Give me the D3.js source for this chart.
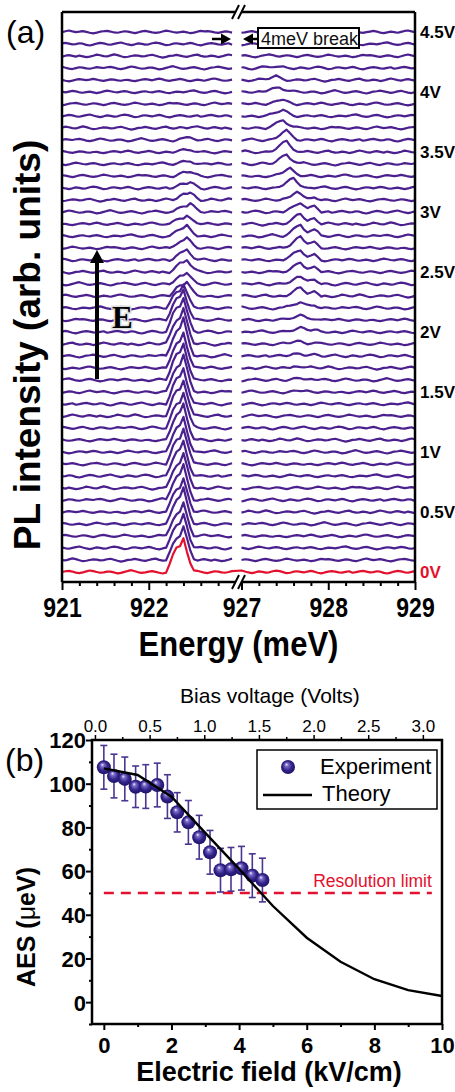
<!DOCTYPE html>
<html>
<head>
<meta charset="utf-8">
<script src="https://cdn.jsdelivr.net/npm/d3@7"></script>
<style>
  body { margin: 0; background: #fff; }
  svg { display: block; font-family: "Liberation Sans", Arial, sans-serif; }
</style>
</head>
<body>
<div id="chart"></div>
<script>
/**
 * DATA
 * */
// panel (a): one PL spectrum per bias step, 0V .. 4.5V
const voltages = [0,0.1,0.2,0.3,0.4,0.5,0.6,0.7,0.8,0.9,1.0,1.1,1.2,1.3,1.4,1.5,1.6,1.7,1.8,1.9,
  2.0,2.1,2.2,2.3,2.4,2.5,2.6,2.7,2.8,2.9,3.0,3.1,3.2,3.3,3.4,3.5,3.6,3.7,3.8,3.9,4.0,4.1,4.2,4.3,4.4,4.5];
const traceGap = 12; // offset between stacked spectra (arb. units)
const energyStep = 0.04;
const leftEnergy = d3.range(50).map(k => +(921 + k * energyStep).toFixed(2));
const rightEnergy = d3.range(51).map(k => +(927 + k * energyStep).toFixed(2));

// main line near 922.4 meV
const leftAmp = [34,33,34,33,35,34,35,34,35,36, 35,36,36,37,36,37,37,36,37,36,
  35,31,24,15,11,12,10,10,10,9, 9,8,6,4,3,2,2,1,0,0, 0,0,0,0,0,0];
const leftPos = [922.40,922.40,922.40,922.40,922.40,922.40,922.40,922.40,922.40,922.40,
  922.40,922.40,922.40,922.40,922.40,922.40,922.40,922.40,922.40,922.40,922.40,922.40,922.40,
  922.44,922.44,922.44,922.44,922.44,922.44,922.44,
  922.48,922.48,922.48,922.48,922.48,922.48,922.48,922.48,922.48,922.48,922.48,922.48,922.48,922.48,922.48,922.48];
const leftProfile = [0, 0.22, 0.5, 0.68, 0.74, 1.0, 0.62, 0.26, 0.03, 0];

// line near 927.5-927.7 meV (after the 4 meV break)
const rightAmp = [0,0,0,0,0,0,0,0,0,0, 0,0,0,0,0,1,2,2,3,3,
  5,5,6,8,8,10,10,12,12,10, 10,8,10,7,10,11,9,8,6,5, 5,3,1.5,0.5,0,0];
const rightPos = [927.68,927.68,927.68,927.68,927.68,927.68,927.68,927.68,927.68,927.68,
  927.68,927.68,927.68,927.68,927.68,927.68,927.68,927.68,927.68,927.68,
  927.68,927.68,927.68,927.68,927.68,927.68,927.68,927.68,927.68,927.68,927.68,
  927.64,927.60,927.56,927.52,927.52,927.52,927.48,927.48,927.48,927.44,927.40,927.36,927.36,927.36,927.36];
const rightProfile = [0, 0.12, 0.3, 0.55, 0.8, 1.0, 0.65, 0.35, 0.12, 0];
const bumpAmp = [0,0,0,0,0,0,0,0,0,0, 0,0,0,0,0,0,0,0,1,1,
  2,2,3,4,4,4,5,5,6,6, 6,3,0,0,0,0,0,0,0,0, 0,0,0,0,0,0];
const bumpPos = 927.84;
const bumpProfile = [0, 0.55, 1.0, 0.55, 0];

const noiseSets = [
  [0,0.5,0.8,0.3,-0.4,-0.8,-0.3,0.4,1.0,0.6,0,-0.5,-0.2,0.3,0.2,-0.3,-0.9,-0.6,0.1,0.7,1.2,0.5,-0.2,-0.6,-0.3,0.2,0.6,0.1,-0.5,-1.0,-0.4,0.3,0.5,0.9,0.4,-0.1,-0.6,-0.2,0.4,0.8,0.2,-0.4,-0.7,-0.1,0.5,0.3,-0.2,-0.5,0,0.6,0.3],
  [0.3,-0.2,-0.7,-0.4,0.2,0.9,0.5,-0.1,-0.3,0.4,1.1,0.6,-0.2,-0.8,-0.5,0,0.4,0.2,-0.3,-0.1,0.5,0.8,0.2,-0.5,-1.1,-0.6,0.1,0.3,0.7,0.3,-0.2,-0.6,0,0.6,0.9,0.1,-0.4,-0.2,0.3,-0.1,-0.7,-0.3,0.4,1.0,0.5,-0.1,-0.4,0.2,0.6,0.1,-0.4],
  [-0.5,-0.1,0.4,0.7,0.2,-0.3,-0.1,0.5,0.2,-0.6,-1.0,-0.4,0.3,0.8,0.4,-0.2,-0.5,0.1,0.6,1.0,0.3,-0.3,-0.7,-0.2,0.4,0.1,-0.4,-0.2,0.5,0.9,0.6,-0.1,-0.8,-0.5,0.2,0.5,0.1,-0.3,0.3,0.7,0.2,-0.5,-0.9,-0.3,0.2,0.6,0.3,-0.2,-0.4,0.1,0.5],
  [0.6,0.2,-0.3,-0.6,-0.1,0.4,0.2,-0.4,-0.8,-0.2,0.5,1.0,0.4,-0.1,0.2,0.6,0.1,-0.5,-0.9,-0.4,0.2,0.5,0.8,0.3,-0.3,-0.5,0,0.5,0.2,-0.3,-0.7,-0.2,0.4,0.7,0.3,-0.2,-0.6,-0.3,0.3,0.9,0.5,0,-0.4,-0.1,0.3,-0.2,-0.8,-0.4,0.2,0.7,0.4],
  [-0.2,0.3,0.6,0.1,-0.5,-0.8,-0.2,0.3,0.1,-0.3,0.2,0.8,1.1,0.4,-0.3,-0.6,-0.2,0.4,0.7,0.2,-0.4,-0.9,-0.5,0.1,0.5,0.2,-0.2,0.3,0.8,0.4,-0.2,-0.5,-0.1,0.3,-0.2,-0.7,-0.3,0.4,0.9,0.5,0,-0.3,0.2,0.6,0.2,-0.4,-0.7,-0.2,0.3,0.5,0],
  [0.1,-0.4,-0.8,-0.3,0.3,0.6,0.2,-0.2,0.4,0.9,0.4,-0.3,-0.6,-0.1,0.3,0.7,0.3,-0.4,-0.7,-0.2,0.2,-0.1,-0.5,0.1,0.7,1.0,0.4,-0.2,-0.5,-0.2,0.3,0.6,0.1,-0.5,-0.9,-0.4,0.2,0.6,0.3,-0.1,0.3,0.8,0.3,-0.3,-0.6,-0.1,0.4,0.2,-0.3,-0.5,0]
];
const noiseScale = 1.5;

const voltLabelValues = [0,0.5,1,1.5,2,2.5,3,3.5,4,4.5];
const energyMajor = [921,922,927,928,929];

// panel (b)
const fieldExp = [0,0.30,0.62,0.94,1.24,1.58,1.88,2.17,2.50,2.82,3.14,3.45,3.76,4.07,4.39,4.69];
const aesExp = [107.5,103.5,102.2,98.6,98.7,99.4,94.1,86.9,82.3,75.5,68.6,60.4,60.8,61.3,57.9,55.9];
const errExp = [10,10,10,9.5,10,10,10,9,10,10,10,10,10,10,10,10];
const fieldTheory = [0,1,2,3,4,5,6,7,8,9,10];
const aesTheory = [107,104,94,77.5,61,44,29.5,18.5,10.5,5.5,2.8];
const resolutionLimit = 50;
const resolutionSpan = [0, 9.7];
const biasTicks = [0,0.5,1,1.5,2,2.5,3];
const fieldTicks = [0,2,4,6,8,10];
const aesTicks = [0,20,40,60,80,100,120];

/**
 * CONSTANTS
 * */
const width = 455, height = 1092;
const purple = "#4a1f8e", red = "#e3102e";

const svg = d3.select("#chart").append("svg")
  .attr("width", width)
  .attr("height", height);

/* ---------------- panel (a) ---------------- */
const xL = d3.scaleLinear().domain([921, 923]).range([62, 235.5]);
const xR = d3.scaleLinear().domain([927, 929]).range([241.5, 415]);
const yA = d3.scaleLinear().domain([-10, 560]).range([582, 12]);

function spectrum(i, seg) {
  const E = seg === 0 ? leftEnergy : rightEnergy;
  const noise = noiseSets[(i + 2 * seg) % noiseSets.length];
  const shift = (i * 7 + seg * 19) % noise.length;
  const p = seg === 0 ? Math.round((leftPos[i] - 921) / energyStep)
                      : Math.round((rightPos[i] - 927) / energyStep);
  const pb = Math.round((bumpPos - 927) / energyStep);
  return E.map((e, k) => {
    let v = i * traceGap + noiseScale * noise[(k + shift) % noise.length];
    if (seg === 0) {
      const j = k - p + 5;
      if (j >= 0 && j < leftProfile.length) v += leftAmp[i] * leftProfile[j];
    } else {
      const j = k - p + 5;
      if (j >= 0 && j < rightProfile.length) v += rightAmp[i] * rightProfile[j];
      const jb = k - pb + 2;
      if (jb >= 0 && jb < bumpProfile.length) v += bumpAmp[i] * bumpProfile[jb];
    }
    return [e, v];
  });
}

const gA = svg.append("g");
const lineL = d3.line().x(d => xL(d[0])).y(d => yA(d[1]));
const lineR = d3.line().x(d => xR(d[0])).y(d => yA(d[1]));

d3.range(voltages.length).reverse().forEach(i => {
  const L = spectrum(i, 0), R = spectrum(i, 1);
  if (i === 0) {
    // 0V trace runs through the break
    const pts = L.map(d => [xL(d[0]), yA(d[1])]).concat(R.map(d => [xR(d[0]), yA(d[1])]));
    gA.append("path").attr("d", d3.line()(pts))
      .attr("fill", "none").attr("stroke", red).attr("stroke-width", 2.2).attr("stroke-linejoin", "round");
  } else {
    [[L, lineL], [R, lineR]].forEach(([data, ln]) => {
      gA.append("path").datum(data).attr("d", ln)
        .attr("fill", "none").attr("stroke", purple).attr("stroke-width", 2.2).attr("stroke-linejoin", "round");
    });
  }
});

// frame with break
const frame = gA.append("g").attr("stroke", "#000").attr("stroke-width", 2.5);
frame.append("line").attr("x1", 62).attr("x2", 62).attr("y1", 12).attr("y2", 582);
frame.append("line").attr("x1", 415).attr("x2", 415).attr("y1", 12).attr("y2", 582);
[12, 582].forEach(yy => {
  frame.append("line").attr("x1", 62).attr("x2", xL.range()[1]).attr("y1", yy).attr("y2", yy);
  frame.append("line").attr("x1", xR.range()[0]).attr("x2", 415).attr("y1", yy).attr("y2", yy);
  [232, 238].forEach(bx => {
    frame.append("line").attr("x1", bx).attr("y1", yy + 7).attr("x2", bx + 7).attr("y2", yy - 7)
      .attr("stroke-width", 2);
  });
});

// bottom energy axis
function styleTicks(g, sw) {
  g.select(".domain").remove();
  g.selectAll(".tick line").attr("stroke", "#000").attr("stroke-width", sw);
}
[xL, xR].forEach(sc => {
  const d0 = sc.domain()[0];
  const minor = d3.range(1, 10).map(k => +(d0 + k * 0.2).toFixed(1)).filter(v => v % 1 !== 0);
  gA.append("g").attr("transform", "translate(0,582)")
    .call(d3.axisBottom(sc).tickValues(minor).tickSize(4).tickFormat(""))
    .call(g => styleTicks(g, 2));
  gA.append("g").attr("transform", "translate(0,582)")
    .call(d3.axisBottom(sc).tickValues(energyMajor.filter(v => v >= sc.domain()[0] && v <= sc.domain()[1]))
      .tickSize(8).tickFormat(d3.format("d")))
    .call(g => styleTicks(g, 2))
    .call(g => g.selectAll("text")
      .attr("y", null).attr("dy", null)
      .attr("transform", "translate(0,35) scale(1,1.2)")
      .attr("fill", "#000")
      .style("font-size", "23px").style("font-weight", "bold")
      .style("font-family", "'Liberation Sans', Arial, sans-serif"));
});

// voltage labels on the right
gA.selectAll(".vlab").data(voltLabelValues).join("text")
  .attr("class", "vlab")
  .attr("x", 420)
  .attr("y", d => yA(Math.round(d * 10) * traceGap) + 6)
  .attr("fill", d => d === 0 ? red : "#000")
  .style("font-size", "17px").style("font-weight", "bold")
  .text(d => d + "V");

// axis titles
svg.append("text")
  .attr("transform", "translate(238.5,656) scale(1,1.12)")
  .attr("text-anchor", "middle")
  .style("font-size", "31px").style("font-weight", "bold")
  .text("Energy (meV)");
svg.append("text")
  .attr("transform", "translate(40,345) rotate(-90)")
  .attr("text-anchor", "middle")
  .style("font-size", "37px").style("font-weight", "bold")
  .text("PL intensity (arb. units)");
svg.append("text").attr("x", 6).attr("y", 43).style("font-size", "32px").text("(a)");

// field arrow and E
gA.append("line").attr("x1", 97).attr("x2", 97).attr("y1", 379).attr("y2", 260)
  .attr("stroke", "#000").attr("stroke-width", 4);
gA.append("path").attr("d", "M90,263 L104,263 L97,250 Z").attr("fill", "#000");
gA.append("text").attr("x", 112).attr("y", 328)
  .style("font-family", "'Liberation Serif', 'Times New Roman', serif")
  .style("font-size", "31px").style("font-weight", "bold")
  .attr("stroke", "#ddd").attr("stroke-width", 3).attr("paint-order", "stroke")
  .text("E");

// break annotation
gA.append("line").attr("x1", 212).attr("x2", 222).attr("y1", 39).attr("y2", 39).attr("stroke", "#000").attr("stroke-width", 2.5);
gA.append("path").attr("d", "M221,33.5 L231,39 L221,44.5 Z").attr("fill", "#000");
gA.append("line").attr("x1", 251).attr("x2", 259).attr("y1", 39).attr("y2", 39).attr("stroke", "#000").attr("stroke-width", 2.5);
gA.append("path").attr("d", "M253,33.5 L243,39 L253,44.5 Z").attr("fill", "#000");
gA.append("rect").attr("x", 258).attr("y", 28).attr("width", 101).attr("height", 20)
  .attr("fill", "#fff").attr("stroke", "#000").attr("stroke-width", 2);
gA.append("text").attr("x", 261).attr("y", 44.5)
  .style("font-size", "18px").attr("fill", "#111").text("4meV break");

/* ---------------- panel (b) ---------------- */
const xB = d3.scaleLinear().domain([-0.35, 10]).range([92, 442]);
const yB = d3.scaleLinear().domain([-10, 120]).range([1024, 740]);
const xTop = d3.scaleLinear().domain([-0.027, 3.175]).range([92, 442]);

const gB = svg.append("g");
const tickFont = g => g.selectAll("text").attr("fill", "#000")
  .style("font-family", "'Liberation Sans', Arial, sans-serif");

// bottom
gB.append("g").attr("transform", "translate(0,1024)")
  .call(d3.axisBottom(xB).tickValues([1,3,5,7,9]).tickSize(3).tickFormat(""))
  .call(g => styleTicks(g, 2));
gB.append("g").attr("transform", "translate(0,1024)")
  .call(d3.axisBottom(xB).tickValues(fieldTicks).tickSize(6).tickFormat(d3.format("d")))
  .call(g => styleTicks(g, 2)).call(tickFont)
  .call(g => g.selectAll("text").attr("y", 29).attr("dy", null)
    .style("font-size", "22px").style("font-weight", "bold"));
// left
gB.append("g").attr("transform", "translate(92,0)")
  .call(d3.axisLeft(yB).tickValues([-10,10,30,50,70,90,110]).tickSize(3).tickFormat(""))
  .call(g => styleTicks(g, 2));
gB.append("g").attr("transform", "translate(92,0)")
  .call(d3.axisLeft(yB).tickValues(aesTicks).tickSize(6).tickFormat(d3.format("d")))
  .call(g => styleTicks(g, 2)).call(tickFont)
  .call(g => g.selectAll("text").attr("x", -6).attr("dy", "0.36em")
    .style("font-size", "22px").style("font-weight", "bold"));
// top (bias)
gB.append("g").attr("transform", "translate(0,740)")
  .call(d3.axisTop(xTop).tickValues(d3.range(0.25, 3.1, 0.5)).tickSize(3).tickFormat(""))
  .call(g => styleTicks(g, 1.5));
gB.append("g").attr("transform", "translate(0,740)")
  .call(d3.axisTop(xTop).tickValues(biasTicks).tickSize(5).tickFormat(d3.format(".1f")))
  .call(g => styleTicks(g, 1.5)).call(tickFont)
  .call(g => g.selectAll("text").attr("y", -8).attr("dy", null)
    .style("font-size", "17px"));

// resolution limit
gB.append("line")
  .attr("x1", xB(resolutionSpan[0])).attr("x2", xB(resolutionSpan[1]))
  .attr("y1", yB(resolutionLimit)).attr("y2", yB(resolutionLimit))
  .attr("stroke", red).attr("stroke-width", 2.5).attr("stroke-dasharray", "10,7");
gB.append("text").attr("x", xB(resolutionSpan[1])).attr("y", yB(resolutionLimit) - 6)
  .attr("text-anchor", "end").attr("fill", red)
  .style("font-size", "17.5px").text("Resolution limit");

// error bars
const expData = fieldExp.map((f, i) => ({ f, a: aesExp[i], e: errExp[i] }));
const eb = gB.append("g").attr("stroke", "#4b3591").attr("stroke-width", 1.6);
expData.forEach(d => {
  eb.append("line").attr("x1", xB(d.f)).attr("x2", xB(d.f)).attr("y1", yB(d.a - d.e)).attr("y2", yB(d.a + d.e));
  [d.a - d.e, d.a + d.e].forEach(v => {
    eb.append("line").attr("x1", xB(d.f) - 3.5).attr("x2", xB(d.f) + 3.5).attr("y1", yB(v)).attr("y2", yB(v));
  });
});

// sphere markers
const grad = svg.append("defs").append("radialGradient").attr("id", "ball")
  .attr("cx", "0.5").attr("cy", "0.5").attr("r", "0.55").attr("fx", "0.38").attr("fy", "0.3");
[["0", "#f2f2ff"], ["0.22", "#7b6cc8"], ["0.6", "#33238a"], ["1", "#1a1060"]].forEach(([o, c]) =>
  grad.append("stop").attr("offset", o).attr("stop-color", c));

gB.selectAll(".dot").data(expData).join("circle")
  .attr("class", "dot")
  .attr("cx", d => xB(d.f)).attr("cy", d => yB(d.a)).attr("r", 7)
  .attr("fill", "url(#ball)");

// theory
gB.append("path").datum(fieldTheory.map((f, i) => [f, aesTheory[i]]))
  .attr("d", d3.line().x(d => xB(d[0])).y(d => yB(d[1])))
  .attr("fill", "none").attr("stroke", "#000").attr("stroke-width", 2.4);

// frame
gB.append("rect").attr("x", 92).attr("y", 740).attr("width", 350).attr("height", 284)
  .attr("fill", "none").attr("stroke", "#000").attr("stroke-width", 2.5);

// legend
const lg = gB.append("g");
lg.append("rect").attr("x", 257).attr("y", 750).attr("width", 180).attr("height", 59)
  .attr("fill", "#fff").attr("stroke", "#000").attr("stroke-width", 1.5);
lg.append("circle").attr("cx", 288).attr("cy", 767).attr("r", 7).attr("fill", "url(#ball)");
lg.append("text").attr("x", 320).attr("y", 774).style("font-size", "22px").text("Experiment");
lg.append("line").attr("x1", 263).attr("x2", 312).attr("y1", 795).attr("y2", 795)
  .attr("stroke", "#000").attr("stroke-width", 2.4);
lg.append("text").attr("x", 322).attr("y", 801).style("font-size", "22px").text("Theory");

// titles
svg.append("text").attr("x", 270).attr("y", 703).attr("text-anchor", "middle")
  .style("font-size", "21px").text("Bias voltage (Volts)");
svg.append("text").attr("x", 269).attr("y", 1081).attr("text-anchor", "middle")
  .style("font-size", "27px").style("font-weight", "bold").text("Electric field (kV/cm)");
const aesLab = svg.append("text").attr("transform", "translate(35,927) rotate(-90)")
  .attr("text-anchor", "middle").style("font-size", "25px").style("font-weight", "bold");
aesLab.append("tspan").text("AES (");
aesLab.append("tspan").style("font-weight", "normal").text("\u03bc");
aesLab.append("tspan").text("eV)");
svg.append("text").attr("x", 5).attr("y", 771).style("font-size", "32px").text("(b)");
</script>
</body>
</html>
